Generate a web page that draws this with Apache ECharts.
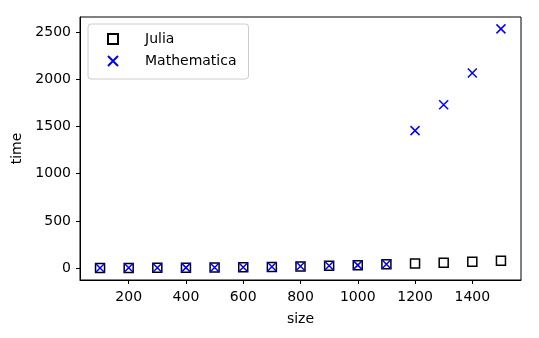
<!DOCTYPE html>
<html>
<head>
<meta charset="utf-8">
<script src="https://cdn.jsdelivr.net/npm/echarts@6/dist/echarts.min.js"></script>
<style>
  html, body { margin: 0; padding: 0; background: #fff; }
  #chart { width: 539px; height: 338px; }
</style>
</head>
<body>
<div id="chart"></div>
<script>
const sizes = [100, 200, 300, 400, 500, 600, 700, 800, 900, 1000, 1100, 1200, 1300, 1400, 1500];
const juliaTimes = [0, 1, 2, 3, 5, 8, 12, 17, 23, 30, 40, 48, 55, 66, 76];
const mathematicaTimes = [1, 2, 3, 4, 6, 9, 13, 18, 24, 31, 41, 1457, 1731, 2068, 2536];
const xTicks = [200, 400, 600, 800, 1000, 1200, 1400];
const yTicks = [0, 500, 1000, 1500, 2000, 2500];

const font = "DejaVu Sans";
const crossPath = "path://M0,0L10,10M10,0L0,10";

var myChart = echarts.init(document.getElementById("chart"));

var option = {
  animation: false,
  textStyle: { fontFamily: font },
  grid: {
    left: 80,
    right: 18,
    top: 17,
    bottom: 58,
    show: true,
    borderColor: "#000",
    borderWidth: 1
  },
  legend: {
    orient: "vertical",
    left: 88,
    top: 24,
    padding: [8, 12, 11, 19],
    itemWidth: 10,
    itemHeight: 10,
    itemGap: 8,
    borderColor: "#cccccc",
    borderWidth: 1,
    borderRadius: 3,
    textStyle: { fontFamily: font, fontSize: 14, color: "#000", padding: [0, 0, 0, 22] },
    data: ["Julia", "Mathematica"]
  },
  xAxis: {
    type: "value",
    min: 30,
    max: 1570,
    name: "size",
    nameLocation: "middle",
    nameGap: 32,
    nameTextStyle: { fontFamily: font, fontSize: 14, color: "#000" },
    splitLine: { show: false },
    axisLine: { show: true, onZero: false, lineStyle: { color: "#000", width: 1 } },
    axisTick: { show: true, length: 4, lineStyle: { color: "#000" }, customValues: xTicks },
    axisLabel: {
      fontFamily: font, fontSize: 14, color: "#000", margin: 10, customValues: xTicks,
      formatter: v => String(v)
    }
  },
  yAxis: {
    type: "value",
    min: -127,
    max: 2662,
    name: "time",
    nameLocation: "middle",
    nameGap: 51,
    nameTextStyle: { fontFamily: font, fontSize: 14, color: "#000" },
    splitLine: { show: false },
    axisLine: { show: true, onZero: false, lineStyle: { color: "#000", width: 1 } },
    axisTick: { show: true, length: 4, lineStyle: { color: "#000" }, customValues: yTicks },
    axisLabel: {
      fontFamily: font, fontSize: 14, color: "#000", margin: 9, customValues: yTicks,
      formatter: v => String(v)
    }
  },
  series: [
    {
      name: "Julia",
      type: "scatter",
      symbol: "rect",
      symbolSize: 9,
      itemStyle: { color: "transparent", borderColor: "#000", borderWidth: 1.5, opacity: 1 },
      data: sizes.map((s, i) => [s, juliaTimes[i]])
    },
    {
      name: "Mathematica",
      type: "scatter",
      symbol: crossPath,
      symbolSize: 9,
      itemStyle: { color: "transparent", borderColor: "#0000ff", borderWidth: 1.5, opacity: 1 },
      data: sizes.map((s, i) => [s, mathematicaTimes[i]])
    }
  ]
};

myChart.setOption(option);
</script>
</body>
</html>
